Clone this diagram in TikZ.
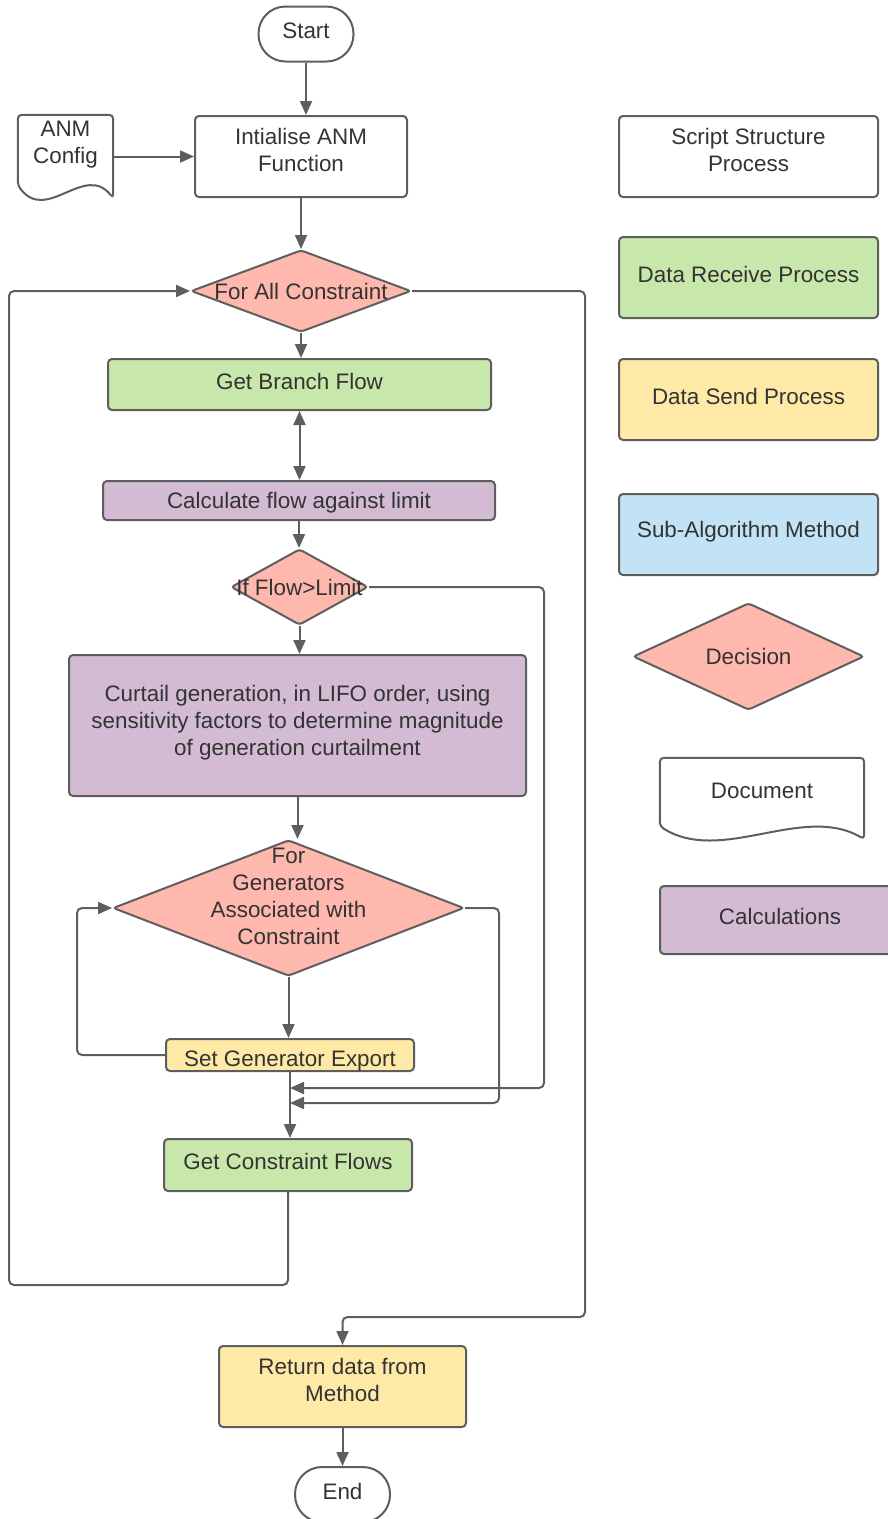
\documentclass[tikz,border=0pt]{standalone}
\usepackage{fontspec}
\setmainfont{Liberation Sans}
\usetikzlibrary{positioning,arrows.meta,shapes.geometric,calc}

\definecolor{edgegray}{HTML}{5E5E5E}
\definecolor{textgray}{HTML}{333333}
\definecolor{decred}{HTML}{FFB8AE}
\definecolor{recvgreen}{HTML}{C7E7AB}
\definecolor{sendyellow}{HTML}{FFE9A6}
\definecolor{subblue}{HTML}{C1E3F5}
\definecolor{calcpurple}{HTML}{D2BBD3}

% outline of a document symbol (wavy bottom) round a named node
\newcommand{\docoutline}[1]{%
  \draw[edgegray, line width=2pt, rounded corners=4pt]
    ($(#1.south west)+(0,-13)$) -- (#1.north west) -- (#1.north east) -- (#1.south east)
    .. controls ($(#1.south west)!0.7!(#1.south east)+(0,-36)$)
       and ($(#1.south west)!0.3!(#1.south east)+(0,26)$) .. ($(#1.south west)+(0,-13)$) -- cycle;
}

\begin{document}
\begin{tikzpicture}[x=1pt, y=-1pt,
    >={Triangle[length=14pt,width=12pt]},
    every node/.style={text=textgray, font=\fontsize{22.4}{27}\selectfont, align=center},
    flowbox/.style={draw=edgegray, line width=2pt, rounded corners=4pt, inner sep=0pt, text height=10pt},
    twolines/.style={text height=30pt},
    threelines/.style={text height=64pt},
    decision/.style={diamond, draw=edgegray, fill=decred, line width=2pt, rounded corners=3pt, inner sep=0pt},
    terminal/.style={draw=edgegray, line width=2pt, rounded corners=27pt, minimum width=95pt, minimum height=55pt, text height=10pt},
    docbox/.style={inner sep=0pt},
    link/.style={draw=edgegray, line width=2pt, rounded corners=5pt, ->}]
    \useasboundingbox (0,0) rectangle (888,1519);

    % Main flow
    \node[terminal] (start) at (306,34) {Start};
    \node[docbox, minimum width=95pt, minimum height=83pt, label={[yshift=12pt]center:ANM\\Config}] (cfg) at (65.5,156.5) {};
    \docoutline{cfg}
    \node[flowbox, twolines, minimum width=212pt, minimum height=81pt] (init) at (301,156.5) {Intialise ANM\\Function};
    \node[decision, minimum width=220pt, minimum height=82pt, label={center:For All Constraint}] (fac) at (301,291) {};
    \node[flowbox, fill=recvgreen, minimum width=383pt, minimum height=51pt] (gbf) at (299.5,384.5) {Get Branch Flow};
    \node[flowbox, fill=calcpurple, minimum width=392pt, minimum height=39pt, text height=20pt] (cfl) at (299,500.5) {Calculate flow against limit};
    \node[decision, minimum width=137pt, minimum height=76pt, label={center:If Flow>Limit}] (iff) at (299.5,587) {};
    \node[flowbox, threelines, fill=calcpurple, minimum width=457pt, minimum height=141pt] (curt) at (297.5,725.5)
        {Curtail generation, in LIFO order, using\\sensitivity factors to determine magnitude\\of generation curtailment};
    \node[decision, minimum width=351pt, minimum height=136pt,
        label={[yshift=12pt]center:For\\Generators\\Associated with\\Constraint}] (fgen) at (288.5,908) {};
    \node[flowbox, fill=sendyellow, minimum width=248pt, minimum height=32pt, text height=27pt] (sge) at (290,1055) {Set Generator Export};
    \node[flowbox, fill=recvgreen, minimum width=248pt, minimum height=52pt] (gcf) at (288,1165) {Get Constraint Flows};
    \node[flowbox, twolines, fill=sendyellow, minimum width=247pt, minimum height=81pt] (ret) at (342.5,1386.5) {Return data from\\Method};
    \node[terminal] (stop) at (342.5,1494.5) {End};

    % Legend
    \node[flowbox, twolines, minimum width=259pt, minimum height=81pt] (lgscript) at (748.5,156.5) {Script Structure\\Process};
    \node[flowbox, fill=recvgreen, minimum width=259pt, minimum height=81pt] (lgrecv) at (748.5,277.5) {Data Receive Process};
    \node[flowbox, fill=sendyellow, minimum width=259pt, minimum height=81pt] (lgsend) at (748.5,399.5) {Data Send Process};
    \node[flowbox, fill=subblue, minimum width=259pt, minimum height=81pt] (lgsub) at (748.5,534.5) {Sub-Algorithm Method};
    \node[decision, minimum width=231pt, minimum height=107pt, label={center:Decision}] (lgdec) at (748.5,656.5) {};
    \node[docbox, minimum width=204pt, minimum height=81pt, label={[yshift=8pt]center:Document}] (lgdoc) at (762,798.5) {};
    \docoutline{lgdoc}
    \node[flowbox, fill=calcpurple, minimum width=240pt, minimum height=68pt] (lgcalc) at (780,920) {Calculations};

    % Connectors
    \draw[link] (start.south) -- (start.south |- init.north);
    \draw[link] (cfg.east) -- (init.west);
    \draw[link] (init.south) -- (fac.north);
    \draw[link] (fac.south) -- (fac.south |- gbf.north);
    \draw[link, <->] (gbf.south) -- (gbf.south |- cfl.north);
    \draw[link] (cfl.south) -- (cfl.south |- iff.north);
    \draw[link] (iff.south) -- (iff.south |- curt.north);
    \draw[link] (curt.south) -- (curt.south |- fgen.north);
    \draw[link] (fgen.south) -- (fgen.south |- sge.north);
    \draw[link] (sge.west) -- ++(-88,0) |- (fgen.west);

    % merge points below Set Generator Export
    \coordinate (mergeA) at (290,1088);
    \coordinate (mergeB) at (290,1103);
    \draw[link] (iff.east) -- ++(175,0) |- (mergeA);
    \draw[link] (fgen.east) -- ++(34,0) |- (mergeB);
    \draw[link] (sge.south) -- (sge.south |- gcf.north);

    % loop back and exit
    \draw[link] (gcf.south) |- (9,1285) |- (fac.west);
    \draw[link] (fac.east) -| (585,1317) -| (ret.north);
    \draw[link] (ret.south) -- (stop.north);
\end{tikzpicture}
\end{document}
